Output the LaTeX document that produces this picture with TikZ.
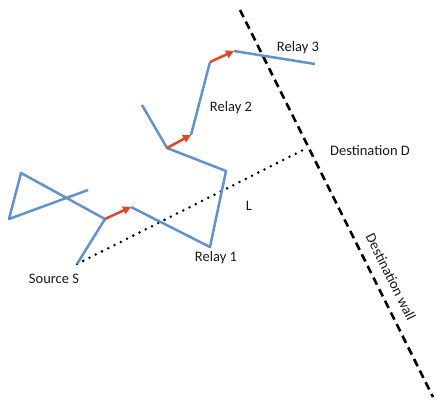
\documentclass[tikz,border=0pt]{standalone}
\usepackage{fontspec}
\setmainfont{Carlito}
\usetikzlibrary{arrows.meta}
\definecolor{walkblue}{RGB}{98,146,204}
\definecolor{hopred}{RGB}{228,70,36}
\tikzset{
  walk/.style={draw=walkblue, line width=2.5pt, line join=round},
  hop/.style={draw=hopred, line width=2.5pt, -{Triangle[length=8pt,width=8pt]}},
  wall/.style={draw=black, line width=2.6pt, dash pattern=on 8pt off 5pt},
  los/.style={draw=black, line width=2.8pt, line cap=round, dash pattern=on 0pt off 7pt},
  lbl/.style={font=\fontsize{14.5}{17}\selectfont, text=black!90, inner sep=0pt}
}
\begin{document}
\begin{tikzpicture}[x=1pt,y=-1pt]
\useasboundingbox (0,0) rectangle (436,405);
% walk points
\coordinate (s) at (77,264);
\coordinate (a) at (105,219);
\coordinate (t1) at (21,173);
\coordinate (t2) at (9,219);
\coordinate (t3) at (88,190);
\coordinate (b) at (131,207);
\coordinate (r1) at (210,247);
\coordinate (c) at (226,171);
\coordinate (d) at (167,148);
\coordinate (e) at (142,105);
\coordinate (f) at (191,135);
\coordinate (g) at (210,62);
\coordinate (h) at (234,51);
\coordinate (i) at (315,64);
\coordinate (dst) at (307,148);
\coordinate (w1) at (240,10);
\coordinate (w2) at (433,397);
% wall and line of sight
\draw[wall] (w1) -- (w2);
\draw[los] (s) -- (dst);
% walk
\draw[walk] (t3) -- (t2) -- (t1) -- (a) -- (s);
\draw[walk] (b) -- (r1) -- (c) -- (d) -- (e);
\draw[walk] (f) -- (g);
\draw[walk] (h) -- (i);
% hops
\draw[hop] (a) -- (b);
\draw[hop] (d) -- (f);
\draw[hop] (g) -- (h);
% labels
\node[lbl] (ls) at (54,279) {Source S};
\node[lbl] (lr1) at (216,258) {Relay 1};
\node[lbl] (lr2) at (231,108) {Relay 2};
\node[lbl] (lr3) at (298,48) {Relay 3};
\node[lbl] (ld) at (370,151) {Destination D};
\node[lbl] (ll) at (249,206) {L};
\node[lbl, rotate=-63.5] (lw) at (391,277) {Destination wall};
\end{tikzpicture}
\end{document}
